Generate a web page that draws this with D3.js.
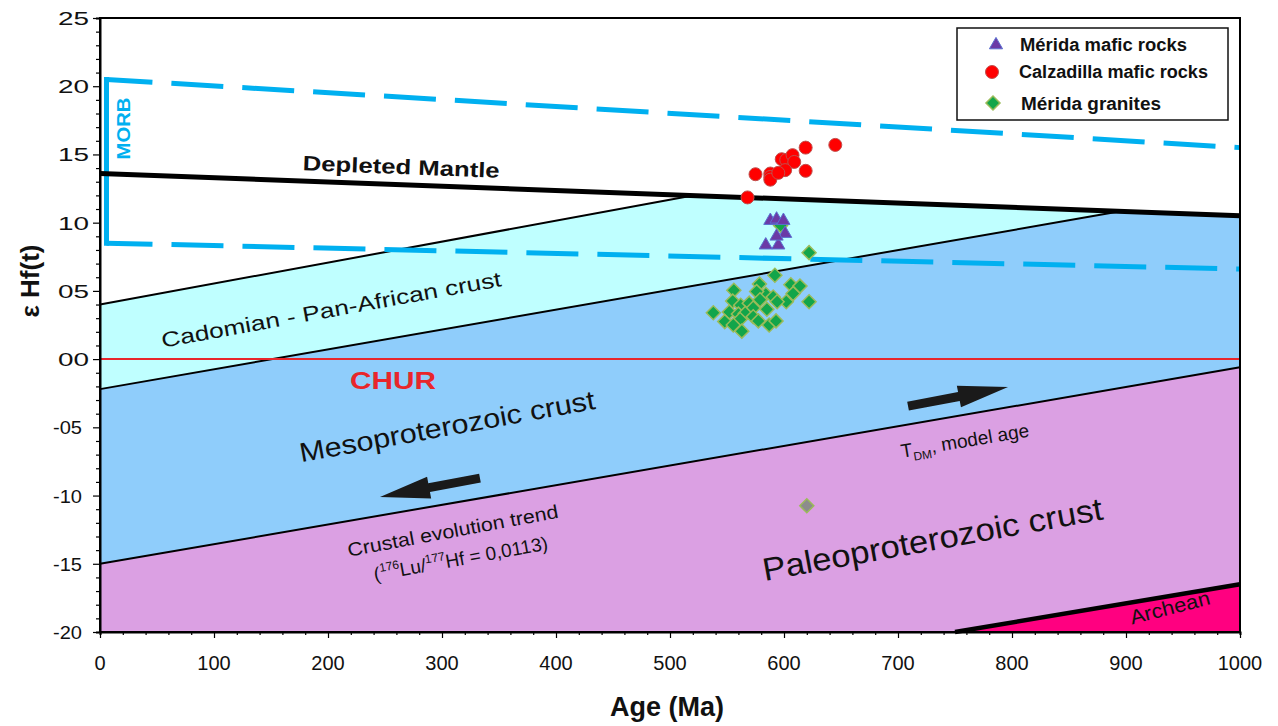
<!DOCTYPE html>
<html>
<head>
<meta charset="utf-8">
<script src="https://cdn.jsdelivr.net/npm/d3@7"></script>
<style>
  html, body { margin: 0; padding: 0; background: #fff; }
  svg { display: block; }
  text { font-family: "Liberation Sans", Arial, sans-serif; }
</style>
</head>
<body>
<svg id="chart" width="1278" height="726"></svg>
<script>
// ---- Axis ticks ----
const ageTicks = [0, 100, 200, 300, 400, 500, 600, 700, 800, 900, 1000];
const epsTicks = [25, 20, 15, 10, 5, 0, -5, -10, -15, -20];
const epsTickLabels = ["25", "20", "15", "10", "05", "00", "-05", "-10", "-15", "-20"];

// ---- Reference lines [age Ma, εHf] ----
const depletedMantle = [[0, 13.6], [1000, 10.5]];
const morbUpper = [[5.7, 20.5], [1000, 15.5]];
const morbLower = [[5.7, 8.5], [1000, 6.6]];
const churLine = [[0, 0], [1000, 0]];
const cadomianTop = [[0, 4.0], [520, 11.99]];
const cadomianBase = [[0, -2.2], [895, 10.83]];
const mesoBase = [[0, -15.0], [1000, -0.6]];
const archeanTop = [[750, -20], [1000, -16.5]];

// ---- Crustal domains ----
const cadomianField = [[0, 4.0], [520, 11.99], [895, 10.83], [0, -2.2]];
const mesoField = [[0, -2.2], [895, 10.83], [1000, 10.5], [1000, -0.6], [0, -15.0]];
const paleoField = [[0, -15.0], [1000, -0.6], [1000, -16.5], [750, -20], [0, -20]];
const archeanField = [[750, -20], [1000, -16.5], [1000, -20]];

// ---- Samples [age Ma, εHf(t)] ----
const calzadillaMafic = [
  [575, 13.55], [588, 13.6], [588, 13.35], [588, 13.15], [598, 14.65], [602, 14.6],
  [607.5, 14.95], [609, 14.45], [619, 15.5], [645, 15.7], [619, 13.8], [601, 13.85],
  [595, 13.65], [568, 11.85]
];
const meridaMafic = [
  [588, 10.15], [593.5, 10.25], [599.5, 10.15], [601, 9.2], [584, 8.35], [595, 8.35], [593.5, 9.0]
];
const meridaGranites = [
  [592, 6.15], [578.5, 5.5], [556, 5.05], [606, 5.45], [614, 5.35], [584, 4.75], [576, 4.95],
  [590.5, 4.55], [608, 4.8], [602, 4.2], [594, 4.2], [622, 4.2], [555, 4.25], [562, 3.95],
  [569.5, 4.1], [579, 4.35], [573, 3.75], [585, 3.65], [552, 3.45], [538, 3.4], [560, 3.3],
  [566, 3.35], [573, 3.1], [548, 2.75], [561.5, 2.9], [555.5, 2.5], [563, 2.05], [577.5, 2.8],
  [587, 2.5], [593, 2.8], [597, 9.8], [622, 7.8]
];
const meridaGraniteInherited = [[620, -10.75]];

// ---- Trend arrows [tail, tip] ----
const arrowModelAge = [[708.8, -3.45], [796.5, -2.05]];
const arrowCrustal = [[333.3, -8.72], [245.6, -10.1]];

const svg = d3.select("#chart");
const plotL = 100, plotR = 1240, plotT = 18, plotB = 632;

const x = d3.scaleLinear().domain([0, 1000]).range([plotL, plotR]);
const y = d3.scaleLinear().domain([-20, 25]).range([plotB, plotT]);

const line = d3.line().x(d => x(d[0])).y(d => y(d[1]));
const poly = pts => line(pts) + "Z";

// domains
const fields = [
  [cadomianField, "#bfffff"],
  [mesoField, "#8fcdfb"],
  [paleoField, "#dba0e3"],
  [archeanField, "#ff0080"]
];
svg.append("g").selectAll("path").data(fields).join("path")
  .attr("d", d => poly(d[0]))
  .attr("fill", d => d[1]);

// thin domain boundaries
svg.append("g").selectAll("path").data([cadomianTop, cadomianBase, mesoBase]).join("path")
  .attr("d", line).attr("fill", "none").attr("stroke", "#000").attr("stroke-width", 2);
svg.append("path").attr("d", line(archeanTop)).attr("fill", "none")
  .attr("stroke", "#000").attr("stroke-width", 4.5);

// CHUR
svg.append("path").attr("d", line(churLine)).attr("fill", "none")
  .attr("stroke", "#e8262b").attr("stroke-width", 2);

// MORB field
const morbColor = "#00b0f0";
svg.append("g").selectAll("path").data([morbUpper, morbLower]).join("path")
  .attr("d", line).attr("fill", "none").attr("stroke", morbColor)
  .attr("stroke-width", 5).attr("stroke-dasharray", "52,19").attr("stroke-dashoffset", 6);
svg.append("path")
  .attr("d", line([[morbUpper[0][0], morbUpper[0][1]], [morbLower[0][0], morbLower[0][1]]]))
  .attr("fill", "none").attr("stroke", morbColor).attr("stroke-width", 5)
  .attr("stroke-linecap", "square");

// Depleted mantle
svg.append("path").attr("d", line(depletedMantle)).attr("fill", "none")
  .attr("stroke", "#000").attr("stroke-width", 5);

// frame
svg.append("rect").attr("x", plotL).attr("y", plotT)
  .attr("width", plotR - plotL).attr("height", plotB - plotT)
  .attr("fill", "none").attr("stroke", "#000").attr("stroke-width", 2);

// axes
const xAxis = svg.append("g").attr("transform", `translate(0,${plotB})`);
xAxis.call(d3.axisBottom(x).tickValues(d3.range(0, 1001, 20)).tickSize(3).tickFormat(""));
xAxis.call(g => g.selectAll(".tick").filter(d => d % 100 === 0).select("line").attr("y2", 6));
xAxis.select(".domain").attr("stroke-width", 2);
xAxis.selectAll(".tick line").attr("stroke-width", 1.2);

const yAxis = svg.append("g").attr("transform", `translate(${plotL},0)`);
yAxis.call(d3.axisLeft(y).tickValues(d3.range(-20, 26, 1)).tickSize(4).tickFormat(""));
yAxis.call(g => g.selectAll(".tick").filter(d => d % 5 === 0).select("line").attr("x2", -7));
yAxis.select(".domain").attr("stroke-width", 2);
yAxis.selectAll(".tick line").attr("stroke-width", 1.2);

// tick labels
svg.append("g").selectAll("text").data(ageTicks).join("text")
  .attr("x", d => x(d)).attr("y", 670)
  .attr("text-anchor", "middle").attr("font-size", 20).attr("fill", "#111")
  .text(d => d);

svg.append("g").selectAll("text").data(epsTicks).join("text")
  .attr("x", (d, i) => epsTickLabels[i].startsWith("-") ? 82 : 89)
  .attr("y", d => y(d) + 7)
  .attr("text-anchor", "end").attr("font-size", 19).attr("fill", "#111")
  .attr("textLength", (d, i) => epsTickLabels[i].startsWith("-") ? 29 : 31)
  .attr("lengthAdjust", "spacingAndGlyphs")
  .text((d, i) => epsTickLabels[i]);

// axis titles
svg.append("text").attr("x", 667).attr("y", 716).attr("text-anchor", "middle")
  .attr("font-size", 27).attr("font-weight", "bold").attr("fill", "#111").text("Age (Ma)");
svg.append("text").attr("transform", `translate(39,281) rotate(-90)`)
  .attr("text-anchor", "middle").attr("font-size", 26).attr("font-weight", "bold").attr("fill", "#111")
  .text("ε Hf(t)");

// domain labels
function label(t, e, angle, str, opts) {
  const el = svg.append("text")
    .attr("transform", `translate(${x(t)},${y(e)}) rotate(${angle})`)
    .attr("text-anchor", "middle")
    .attr("font-size", opts.size)
    .attr("font-weight", opts.weight || "normal")
    .attr("fill", opts.color || "#111");
  if (opts.len) el.attr("textLength", opts.len).attr("lengthAdjust", "spacingAndGlyphs");
  el.text(str);
  return el;
}
label(264, 13.56, 2.2, "Depleted Mantle", { size: 21, weight: "bold", len: 197 });
label(204, 3.1, -10.3, "Cadomian - Pan-African  crust", { size: 21, len: 345 });
label(257, -2.2, 0, "CHUR", { size: 23, weight: "bold", color: "#e8262b", len: 86 });
label(306, -5.6, -10.3, "Mesoproterozoic crust", { size: 27, len: 300 });
label(310.5, -13.05, -10.5, "Crustal evolution trend", { size: 19, len: 214 });
label(732, -14.0, -10.3, "Paleoproterozoic crust", { size: 32, len: 345 });
label(940, -18.7, -14.5, "Archean", { size: 20, len: 82 });

// MORB label
svg.append("text").attr("transform", `translate(${x(20.2)},${y(16.9)}) rotate(-90)`)
  .attr("text-anchor", "middle").attr("dominant-baseline", "central")
  .attr("font-size", 19).attr("font-weight", "bold").attr("fill", morbColor)
  .attr("textLength", 62).attr("lengthAdjust", "spacingAndGlyphs").text("MORB");

// Lu/Hf ratio
const lu = svg.append("text")
  .attr("transform", `translate(${x(317.5)},${y(-15.1)}) rotate(-10.3)`)
  .attr("text-anchor", "middle").attr("font-size", 19).attr("fill", "#111");
lu.append("tspan").text("(");
lu.append("tspan").attr("font-size", 12).attr("dy", -8).text("176");
lu.append("tspan").attr("dy", 8).text("Lu/");
lu.append("tspan").attr("font-size", 12).attr("dy", -8).text("177");
lu.append("tspan").attr("dy", 8).text("Hf = 0,0113)");

// model age
const tdm = svg.append("text")
  .attr("transform", `translate(${x(759.6)},${y(-6.45)}) rotate(-9.5)`)
  .attr("text-anchor", "middle").attr("font-size", 19).attr("fill", "#111");
tdm.append("tspan").text("T");
tdm.append("tspan").attr("font-size", 12).attr("dy", 5).text("DM");
tdm.append("tspan").attr("dy", -5).text(", model age");

// arrows
function arrowPath(a) {
  const x0 = x(a[0][0]), y0 = y(a[0][1]), x1 = x(a[1][0]), y1 = y(a[1][1]);
  const L = Math.hypot(x1 - x0, y1 - y0), ux = (x1 - x0) / L, uy = (y1 - y0) / L;
  const nx = -uy, ny = ux, head = 50, hw = 11, sw = 4.5;
  const bx = x1 - ux * head, by = y1 - uy * head;
  const p = [
    [x0 + nx * sw, y0 + ny * sw], [bx + nx * sw, by + ny * sw], [bx + nx * hw, by + ny * hw],
    [x1, y1],
    [bx - nx * hw, by - ny * hw], [bx - nx * sw, by - ny * sw], [x0 - nx * sw, y0 - ny * sw]
  ];
  return "M" + p.map(q => q.join(",")).join("L") + "Z";
}
svg.append("g").selectAll("path").data([arrowModelAge, arrowCrustal]).join("path")
  .attr("d", arrowPath).attr("fill", "#1a1a1a");

// samples
const sym = {
  tri: d3.symbol().type(d3.symbolTriangle).size(75)(),
  sq: d3.symbol().type(d3.symbolSquare).size(98)()
};
const gPts = svg.append("g");
gPts.selectAll(".gr").data(meridaGranites).join("path").attr("class", "gr")
  .attr("d", sym.sq)
  .attr("transform", d => `translate(${x(d[0])},${y(d[1])}) rotate(45)`)
  .attr("fill", "#12a54a").attr("stroke", "#9bbb59").attr("stroke-width", 1.5);
gPts.selectAll(".gi").data(meridaGraniteInherited).join("path").attr("class", "gi")
  .attr("d", sym.sq)
  .attr("transform", d => `translate(${x(d[0])},${y(d[1])}) rotate(45)`)
  .attr("fill", "#8c8c8c").attr("stroke", "#9bbb59").attr("stroke-width", 1.5);
gPts.selectAll(".mm").data(meridaMafic).join("path").attr("class", "mm")
  .attr("d", sym.tri)
  .attr("transform", d => `translate(${x(d[0])},${y(d[1])})`)
  .attr("fill", "#6b3aa6").attr("stroke", "#5a70d0").attr("stroke-width", 1);
gPts.selectAll(".cm").data(calzadillaMafic).join("circle").attr("class", "cm")
  .attr("cx", d => x(d[0])).attr("cy", d => y(d[1])).attr("r", 6.5)
  .attr("fill", "#ff0000").attr("stroke", "#c0504d").attr("stroke-width", 1);

// legend
const legendItems = ["Mérida mafic rocks", "Calzadilla mafic rocks", "Mérida granites"];
const lg = svg.append("g");
lg.append("rect").attr("x", 957).attr("y", 28).attr("width", 271).attr("height", 92)
  .attr("fill", "#fff").attr("stroke", "#111").attr("stroke-width", 1.5);
lg.append("path").attr("d", sym.tri).attr("transform", "translate(996,45)")
  .attr("fill", "#6b3aa6").attr("stroke", "#5a70d0");
lg.append("circle").attr("cx", 992).attr("cy", 72).attr("r", 6.5)
  .attr("fill", "#ff0000").attr("stroke", "#c0504d");
lg.append("path").attr("d", sym.sq).attr("transform", "translate(993,103) rotate(45)")
  .attr("fill", "#12a54a").attr("stroke", "#9bbb59").attr("stroke-width", 1.5);
const legY = [51, 78, 110], legX = [1020, 1019, 1021], legLen = [167, 189, 140];
lg.selectAll("text.lt").data(legendItems).join("text").attr("class", "lt")
  .attr("x", (d, i) => legX[i]).attr("y", (d, i) => legY[i])
  .attr("font-family", "Lato, 'Open Sans', sans-serif").attr("font-weight", "bold")
  .attr("font-size", 18).attr("fill", "#111")
  .attr("textLength", (d, i) => legLen[i]).attr("lengthAdjust", "spacingAndGlyphs")
  .text(d => d);
</script>
</body>
</html>
